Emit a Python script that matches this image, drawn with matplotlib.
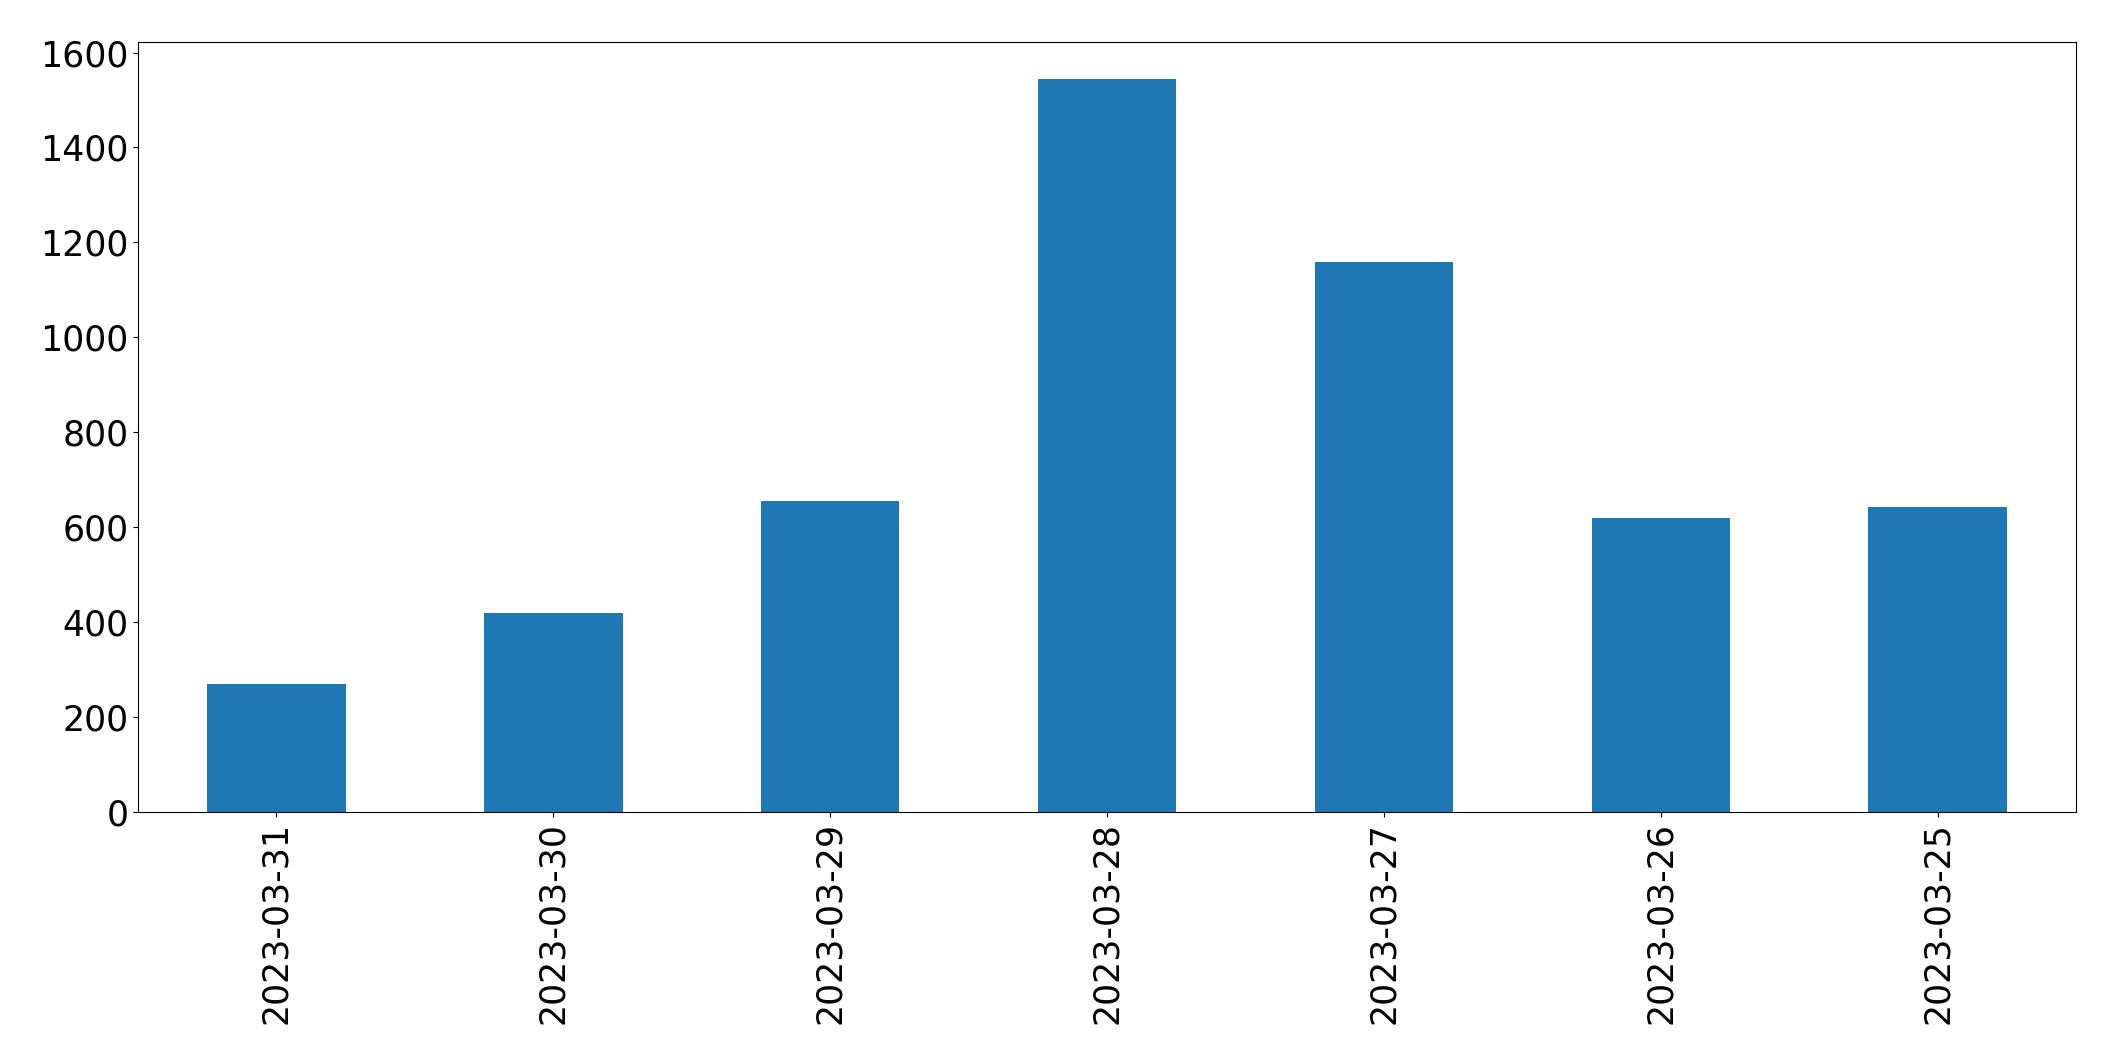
import matplotlib
matplotlib.use("Agg")
import matplotlib.pyplot as plt

dates = ["2023-03-31", "2023-03-30", "2023-03-29", "2023-03-28",
         "2023-03-27", "2023-03-26", "2023-03-25"]
counts = [270, 420, 656, 1545, 1158, 620, 643]

fig = plt.figure(figsize=(21.15, 10.64), dpi=100)
ax = fig.add_axes([138 / 2115, 1 - 812 / 1064, (2076 - 138) / 2115, (812 - 42) / 1064])
x = list(range(len(dates)))
ax.bar(x, counts, width=0.5, color="#1f77b4")
ax.set_xlim(-0.5, len(dates) - 0.5)
ax.set_xticks(x)
ax.set_xticklabels(dates, rotation=90)
ax.tick_params(axis="both", labelsize=25)
for s in ax.spines.values():
    s.set_color("black")
fig.savefig("out.png", dpi=100)
